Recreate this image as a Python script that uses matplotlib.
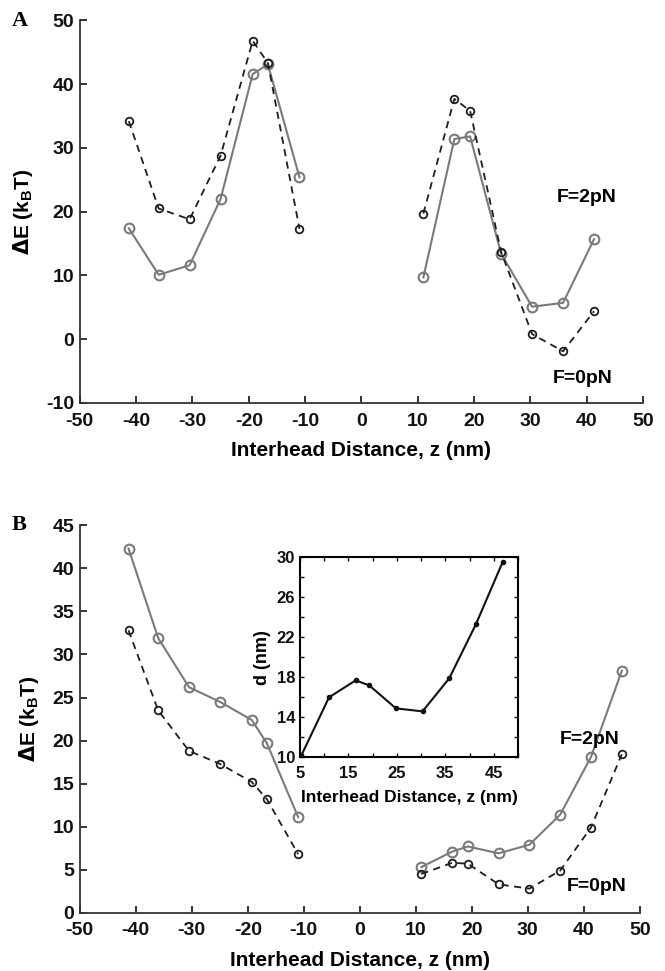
import matplotlib
matplotlib.use("Agg")
import matplotlib.pyplot as plt
from matplotlib.ticker import MultipleLocator

plt.rcParams["font.family"] = ["Liberation Sans", "DejaVu Sans"]
plt.rcParams["font.weight"] = "bold"
plt.rcParams["axes.unicode_minus"] = False

# panel A
za_left = [-41.3, -36.0, -30.5, -25.0, -19.3, -16.6, -11.0]
za_right = [11.0, 16.5, 19.3, 24.8, 30.3, 35.8, 41.3]
ea_2pn_left = [17.4, 10.1, 11.6, 22.0, 41.6, 43.1, 25.4]
ea_2pn_right = [9.7, 31.4, 31.8, 13.4, 5.1, 5.7, 15.7]
ea_0pn_left = [34.2, 20.5, 18.8, 28.8, 46.8, 43.3, 17.3]
ea_0pn_right = [19.7, 37.7, 35.8, 13.7, 0.8, -1.9, 4.4]

# panel B
zb_left = [-41.3, -36.0, -30.5, -25.0, -19.3, -16.6, -11.0]
zb_right = [11.0, 16.5, 19.3, 24.8, 30.3, 35.8, 41.3, 46.8]
eb_2pn_left = [42.3, 31.9, 26.2, 24.5, 22.4, 19.7, 11.1]
eb_2pn_right = [5.3, 7.1, 7.7, 6.9, 7.9, 11.4, 18.1, 28.1]
eb_0pn_left = [32.8, 23.5, 18.8, 17.3, 15.2, 13.2, 6.8]
eb_0pn_right = [4.5, 5.8, 5.7, 3.3, 2.8, 4.9, 9.9, 18.4]

# inset
z_inset = [5.3, 11.0, 16.5, 19.3, 24.8, 30.3, 35.8, 41.3, 46.8]
d_inset = [10.2, 16.0, 17.7, 17.2, 14.9, 14.6, 17.9, 23.3, 29.5]

GRAY = "#7a7a7a"
DARK = "#1e1e1e"
YLABEL = r"$\Delta$E (k$_{\mathregular{B}}$T)"
XLABEL = "Interhead Distance, z (nm)"


def draw_pair(ax, xs_l, xs_r, g_l, g_r, k_l, k_r):
    for xs, ys in ((xs_l, g_l), (xs_r, g_r)):
        ax.plot(xs, ys, "-", color=GRAY, lw=1.5, marker="o", ms=7,
                mfc="none", mec=GRAY, mew=1.5, zorder=3)
    for xs, ys in ((xs_l, k_l), (xs_r, k_r)):
        ax.plot(xs, ys, "--", color=DARK, lw=1.3, dashes=(4, 3), marker="o",
                ms=5.5, mfc="none", mec=DARK, mew=1.3, zorder=4)


def style_main(ax):
    ax.spines["top"].set_visible(False)
    ax.spines["right"].set_visible(False)
    for s in ("left", "bottom"):
        ax.spines[s].set_linewidth(1.3)
        ax.spines[s].set_color("#333333")
    ax.tick_params(direction="in", length=5, width=1.2, labelsize=14,
                   pad=4, colors="#111111")
    ax.tick_params(axis="x", pad=7)
    ax.set_xlim(-50, 50)
    ax.xaxis.set_major_locator(MultipleLocator(10))
    ax.set_xlabel(XLABEL, fontsize=15, fontweight="bold", labelpad=8)
    ax.set_ylabel(YLABEL, fontsize=15, fontweight="bold", labelpad=8)


fig = plt.figure(figsize=(6.65, 9.71), dpi=100)

ax_a = fig.add_axes([0.120, 0.585, 0.847, 0.394])
draw_pair(ax_a, za_left, za_right, ea_2pn_left, ea_2pn_right,
          ea_0pn_left, ea_0pn_right)
style_main(ax_a)
ax_a.set_ylim(-10, 50)
ax_a.yaxis.set_major_locator(MultipleLocator(10))
ax_a.text(40.0, 22.3, "F=2pN", fontsize=14, fontweight="bold",
          ha="center", va="center")
ax_a.text(39.3, -6.1, "F=0pN", fontsize=14, fontweight="bold",
          ha="center", va="center")
fig.text(0.018, 0.978, "A", fontsize=16, fontweight="bold",
         family="Liberation Serif", va="center")

ax_b = fig.add_axes([0.120, 0.060, 0.842, 0.399])
draw_pair(ax_b, zb_left, zb_right, eb_2pn_left, eb_2pn_right,
          eb_0pn_left, eb_0pn_right)
style_main(ax_b)
ax_b.set_ylim(0, 45)
ax_b.yaxis.set_major_locator(MultipleLocator(5))
ax_b.text(41.0, 20.1, "F=2pN", fontsize=14, fontweight="bold",
          ha="center", va="center")
ax_b.text(42.3, 3.1, "F=0pN", fontsize=14, fontweight="bold",
          ha="center", va="center")
fig.text(0.018, 0.459, "B", fontsize=16, fontweight="bold",
         family="Liberation Serif", va="center")

ax_in = fig.add_axes([0.451, 0.220, 0.328, 0.206])
ax_in.plot(z_inset, d_inset, "-", color="#111111", lw=1.5, marker="o",
           ms=3, mfc="#111111", mec="#111111", zorder=3)
ax_in.set_xlim(5, 50)
ax_in.set_ylim(10, 30)
ax_in.set_xticks([5, 15, 25, 35, 45])
ax_in.xaxis.set_minor_locator(MultipleLocator(5))
ax_in.set_yticks([10, 14, 18, 22, 26, 30])
ax_in.yaxis.set_minor_locator(MultipleLocator(2))
ax_in.tick_params(which="both", direction="in", top=True, right=True,
                  width=1.0, length=3, labelsize=12, colors="#111111")
ax_in.tick_params(axis="x", which="both", pad=6)
for s in ax_in.spines.values():
    s.set_linewidth(1.5)
ax_in.set_xlabel(XLABEL, fontsize=12.5, fontweight="bold", labelpad=7)
ax_in.set_ylabel("d (nm)", fontsize=13, fontweight="bold", labelpad=4)

fig.savefig("out.png", dpi=100)
